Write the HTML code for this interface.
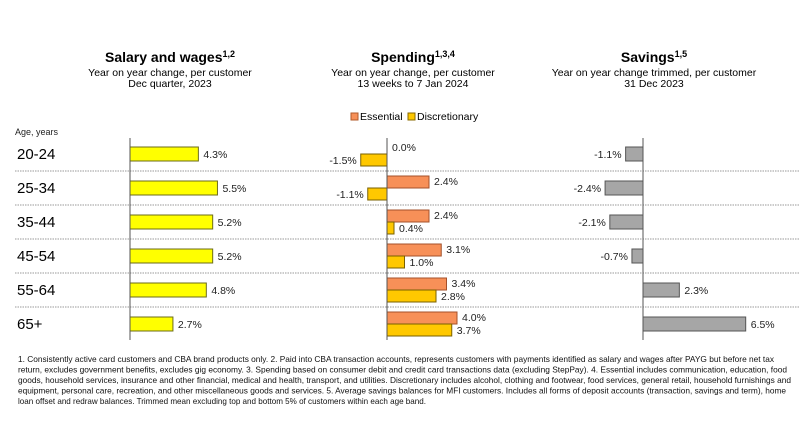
<!DOCTYPE html>
<html><head><meta charset="utf-8"><style>
html,body{margin:0;padding:0;background:#fff;width:800px;height:444px;overflow:hidden}
svg{display:block;font-family:"Liberation Sans",Arial,sans-serif}
</style></head><body>
<svg id="chart" width="800" height="444">
<g>
<text x="170" y="62" font-size="14" font-weight="bold" text-anchor="middle">Salary and wages<tspan font-size="9" dy="-5">1,2</tspan></text>
<text x="170" y="76" font-size="10.5" text-anchor="middle">Year on year change, per customer</text>
<text x="170" y="87" font-size="10.5" text-anchor="middle">Dec quarter, 2023</text>
</g>
<g>
<text x="413" y="62" font-size="14" font-weight="bold" text-anchor="middle">Spending<tspan font-size="9" dy="-5">1,3,4</tspan></text>
<text x="413" y="76" font-size="10.5" text-anchor="middle">Year on year change, per customer</text>
<text x="413" y="87" font-size="10.5" text-anchor="middle">13 weeks to 7 Jan 2024</text>
</g>
<g>
<text x="654" y="62" font-size="14" font-weight="bold" text-anchor="middle">Savings<tspan font-size="9" dy="-5">1,5</tspan></text>
<text x="654" y="76" font-size="10.5" text-anchor="middle">Year on year change trimmed, per customer</text>
<text x="654" y="87" font-size="10.5" text-anchor="middle">31 Dec 2023</text>
</g>
<g>
<rect x="351" y="113" width="7" height="7" fill="#f79058" stroke="#b05a2a"/>
<text x="360" y="120" font-size="10.5">Essential</text>
<rect x="408" y="113" width="7" height="7" fill="#ffc800" stroke="#8a6a00"/>
<text x="417" y="120" font-size="10.5">Discretionary</text>
</g>
<text x="15" y="135" font-size="9" fill="#222">Age, years</text>
<g id="marks"></g>
<g font-size="8.2" fill="#111">
<text x="18" y="362" textLength="756" lengthAdjust="spacingAndGlyphs">1. Consistently active card customers and CBA brand products only.  2. Paid into CBA transaction accounts, represents customers with payments identified as salary and wages after PAYG but before net tax</text>
<text x="18" y="372.5" textLength="769" lengthAdjust="spacingAndGlyphs">return, excludes government benefits, excludes gig economy.  3. Spending based on consumer debit and credit card transactions data (excluding StepPay).  4. Essential includes communication, education, food</text>
<text x="18" y="383" textLength="773" lengthAdjust="spacingAndGlyphs">goods, household services, insurance and other financial, medical and health, transport, and utilities. Discretionary includes alcohol, clothing and footwear, food services, general retail, household furnishings and</text>
<text x="18" y="393.5" textLength="768" lengthAdjust="spacingAndGlyphs">equipment, personal care, recreation, and other miscellaneous goods and services.  5. Average savings balances for MFI customers. Includes all forms of deposit accounts (transaction, savings and term), home</text>
<text x="18" y="404" textLength="408" lengthAdjust="spacingAndGlyphs">loan offset and redraw balances. Trimmed mean excluding top and bottom 5% of customers within each age band.</text>
</g>
</svg>
<script>
const ageGroups = ["20-24","25-34","35-44","45-54","55-64","65+"];
const salaryValues = [4.3,5.5,5.2,5.2,4.8,2.7];
const essentialValues = [0.0,2.4,2.4,3.1,3.4,4.0];
const discretionaryValues = [-1.5,-1.1,0.4,1.0,2.8,3.7];
const savingsValues = [-1.1,-2.4,-2.1,-0.7,2.3,6.5];

const NS="http://www.w3.org/2000/svg";
const g=document.getElementById('marks');
function mk(tag,attrs){const e=document.createElementNS(NS,tag);for(const k in attrs)e.setAttribute(k,attrs[k]);g.appendChild(e);return e;}
const rowTop=137, rowH=34;
function rowY(i){return rowTop+i*rowH+rowH/2;}
const salX=v=>130+v*15.9, spX=v=>387+v*17.5, svX=v=>643+v*15.8;
function fmt(v){return v.toFixed(1)+'%';}

for(let i=1;i<ageGroups.length;i++){
  const y=rowTop+i*rowH;
  const l=mk('line',{x1:15,x2:800,y1:y,y2:y,stroke:'#999','stroke-width':1,'stroke-dasharray':'1.5,1'});
  
  
}
ageGroups.forEach((a,i)=>{
  const t=mk('text',{x:17,y:rowY(i)+5,'font-size':15});
  t.textContent=a;
  
  
});
function bar(x0,x1,y,h,fill,stroke,name,val,labelY){
  const x=Math.min(x0,x1), w=Math.abs(x1-x0);
  const r=mk('rect',{x:x,y:y,width:Math.max(w,0.01),height:h,fill:fill,stroke:stroke,'stroke-width':1});
  
  
  const neg=val<0;
  const t=mk('text',{x:neg?x-4:x+w+5,y:labelY,'font-size':10.5,'text-anchor':neg?'end':'start',fill:'#222'});
  t.textContent=fmt(val);
  
  
}
salaryValues.forEach((v,i)=>{const c=rowY(i);bar(salX(0),salX(v),c-7,14,'#ffff00','#6b6b1a','salary-bar-'+ageGroups[i],v,c+4);});
essentialValues.forEach((v,i)=>{const c=rowY(i);bar(spX(0),spX(v),c-12,12,'#f79058','#a4502a','essential-bar-'+ageGroups[i],v,c-3);});
discretionaryValues.forEach((v,i)=>{const c=rowY(i);bar(spX(0),spX(v),c,12,'#ffc800','#7a6000','discretionary-bar-'+ageGroups[i],v,c+10);});
savingsValues.forEach((v,i)=>{const c=rowY(i);bar(svX(0),svX(v),c-7,14,'#a6a6a6','#555','savings-bar-'+ageGroups[i],v,c+4);});
[[salX(0),'salary-axis'],[spX(0),'spending-axis'],[svX(0),'savings-axis']].forEach(([x,n])=>{
  const l=mk('line',{x1:x,x2:x,y1:138,y2:340,stroke:'#555','stroke-width':1});
  
  
});
</script>
</body></html>
